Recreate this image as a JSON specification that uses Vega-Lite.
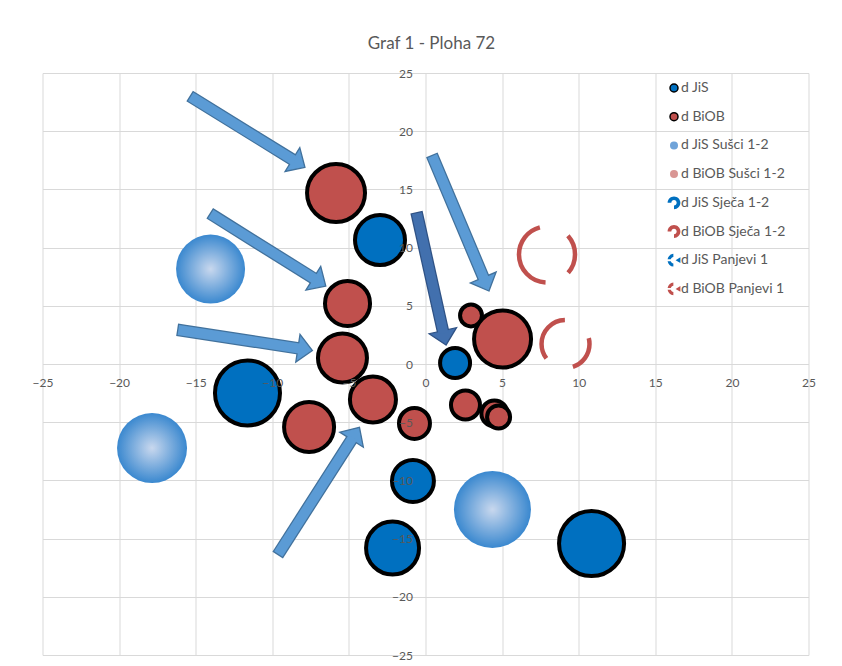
{
  "$schema": "https://vega.github.io/schema/vega-lite/v6.json",
  "width": 766,
  "height": 582,
  "autosize": {"type": "none"},
  "padding": {"left": 42.5, "top": 73, "right": 33.5, "bottom": 11},
  "background": "white",
  "config": {"view": {"stroke": null}, "font": "Lato"},
  "title": {"text": "Graf 1 - Ploha 72", "font": "Lato", "fontSize": 17, "fontWeight": "normal", "color": "#595959", "anchor": "middle", "offset": 14, "dx": 6},
  "datasets": {
    "bubbles": [
      {"series": "d JiS", "id": "j1", "x": -2.97, "y": 10.65, "bubble": 25.0},
      {"series": "d JiS", "id": "j2", "x": 1.93, "y": 0.09, "bubble": 9.0},
      {"series": "d JiS", "id": "j3", "x": -11.62, "y": -2.49, "bubble": 42.3},
      {"series": "d JiS", "id": "j4", "x": -0.82, "y": -10.05, "bubble": 17.6},
      {"series": "d JiS", "id": "j5", "x": -2.15, "y": -15.81, "bubble": 28.1},
      {"series": "d JiS", "id": "j6", "x": 10.84, "y": -15.42, "bubble": 42.3},
      {"series": "d BiOB", "id": "b1", "x": -5.84, "y": 14.69, "bubble": 33.6},
      {"series": "d BiOB", "id": "b2", "x": -5.09, "y": 5.2, "bubble": 20.3},
      {"series": "d BiOB", "id": "b3", "x": -5.42, "y": 0.52, "bubble": 24.0},
      {"series": "d BiOB", "id": "b4", "x": -3.43, "y": -3.05, "bubble": 21.2},
      {"series": "d BiOB", "id": "b5", "x": -7.6, "y": -5.41, "bubble": 25.0},
      {"series": "d BiOB", "id": "b6", "x": -0.72, "y": -5.11, "bubble": 9.6},
      {"series": "d BiOB", "id": "b7", "x": 2.97, "y": 4.17, "bubble": 4.8},
      {"series": "d BiOB", "id": "b8", "x": 5.03, "y": 2.15, "bubble": 32.5},
      {"series": "d BiOB", "id": "b9", "x": 2.61, "y": -3.52, "bubble": 8.4},
      {"series": "d BiOB", "id": "b10", "x": 4.5, "y": -4.25, "bubble": 6.8},
      {"series": "d BiOB", "id": "b11", "x": 4.77, "y": -4.55, "bubble": 5.3},
      {"series": "d JiS Sušci 1-2", "id": "s1", "x": -14.03, "y": 8.16, "bubble": 47.6},
      {"series": "d JiS Sušci 1-2", "id": "s2", "x": -17.85, "y": -7.22, "bubble": 49.0},
      {"series": "d JiS Sušci 1-2", "id": "s3", "x": 4.37, "y": -12.5, "bubble": 59.3},
      {"series": "d BiOB Panjevi 1", "id": "p1", "x": 7.93, "y": 9.41, "bubble": 31.4},
      {"series": "d BiOB Panjevi 1", "id": "p2", "x": 9.14, "y": 1.72, "bubble": 23.0}
    ],
    "arrows": [
      {"arrow": "A", "tx": -15.05, "ty": 22.74, "sx": -8.81, "sy": 17.67, "px": -7.87, "py": 16.9, "angle": 121.7},
      {"arrow": "B", "tx": -13.74, "ty": 12.66, "sx": -7.45, "sy": 7.48, "px": -6.51, "py": 6.7, "angle": 122.0},
      {"arrow": "C", "tx": -15.81, "ty": 2.86, "sx": -8.47, "sy": 1.38, "px": -7.38, "py": 1.16, "angle": 98.7},
      {"arrow": "D", "tx": -9.43, "ty": -15.96, "sx": -4.91, "sy": -6.67, "px": -4.31, "py": -5.44, "angle": 32.6},
      {"arrow": "E", "tx": 0.57, "ty": 17.47, "sx": 3.72, "sy": 7.62, "px": 4.14, "py": 6.27, "angle": 157.2},
      {"arrow": "F", "tx": -0.5, "ty": 12.53, "sx": 1.1, "sy": 3.06, "px": 1.34, "py": 1.63, "angle": 167.5}
    ]
  },
  "resolve": {"axis": {"x": "independent", "y": "independent"}},
  "layer": [
    {
      "data": {"name": "bubbles"},
      "transform": [{"filter": "datum.series === 'd JiS' || datum.series === 'd BiOB'"}],
      "mark": {"type": "point", "filled": true, "opacity": 1, "strokeWidth": 4, "strokeOpacity": 1, "fillOpacity": 1},
      "encoding": {
        "x": {"field": "x", "type": "quantitative",
          "scale": {"domain": [-25, 25], "nice": false, "zero": false},
          "axis": {"orient": "bottom", "offset": -291, "values": [-25, -20, -15, -10, -5, 0, 5, 10, 15, 20, 25], "grid": true, "gridColor": "#D9D9D9", "gridWidth": 1, "domain": false, "ticks": false, "labels": false, "title": null, "zindex": 0}},
        "y": {"field": "y", "type": "quantitative",
          "scale": {"domain": [-25, 25], "nice": false, "zero": false},
          "axis": {"orient": "left", "offset": -383, "values": [-25, -20, -15, -10, -5, 0, 5, 10, 15, 20, 25], "grid": true, "gridColor": "#D9D9D9", "gridWidth": 1, "domain": false, "ticks": false, "labels": false, "title": null, "zindex": 0}},
        "size": {"field": "bubble", "type": "quantitative", "scale": {"type": "linear", "domain": [0, 100], "range": [0, 10000], "zero": true}, "legend": null},
        "color": {"field": "series", "type": "nominal",
          "scale": {
            "domain": ["d JiS", "d BiOB", "d JiS Sušci 1-2", "d BiOB Sušci 1-2", "d JiS Sječa 1-2", "d BiOB Sječa 1-2", "d JiS Panjevi 1", "d BiOB Panjevi 1"],
            "range": ["#0070C0", "#C0504D", "#6FA3D9", "#D99694", "#0070C0", "#C0504D", "#0070C0", "#C0504D"]
          },
          "legend": {
            "orient": "none", "legendX": 624.5, "legendY": 8, "title": null, "padding": 0, "gridAlign": "all",
            "symbolSize": 64, "labelFont": "Lato", "labelFontSize": 14, "labelColor": "#595959", "labelOffset": 0, "rowPadding": 8.7
          }
        },
        "shape": {"field": "series", "type": "nominal",
          "scale": {
            "domain": ["d JiS", "d BiOB", "d JiS Sušci 1-2", "d BiOB Sušci 1-2", "d JiS Sječa 1-2", "d BiOB Sječa 1-2", "d JiS Panjevi 1", "d BiOB Panjevi 1"],
            "range": ["circle", "circle", "circle", "circle",
              "M-1.6,0A1.6,1.6,0,1,1,0,1.6L0,0.67A0.67,0.67,0,1,0,-0.67,0Z",
              "M-1.6,0A1.6,1.6,0,1,1,0,1.6L0,0.67A0.67,0.67,0,1,0,-0.67,0Z",
              "M-0.16,-1.6A1.6,1.6,0,0,0,-1.6,-0.24L-0.8,-0.24A0.8,0.8,0,0,1,-0.16,-0.8ZM-1.6,0.24A1.6,1.6,0,0,0,-0.16,1.6L-0.16,0.8A0.8,0.8,0,0,1,-0.8,0.24ZM1.6,-0.72L0.4,0L1.6,0.72Z",
              "M-0.16,-1.6A1.6,1.6,0,0,0,-1.6,-0.24L-0.8,-0.24A0.8,0.8,0,0,1,-0.16,-0.8ZM-1.6,0.24A1.6,1.6,0,0,0,-0.16,1.6L-0.16,0.8A0.8,0.8,0,0,1,-0.8,0.24ZM1.6,-0.72L0.4,0L1.6,0.72Z"]
          },
          "legend": {
            "orient": "none", "legendX": 624.5, "legendY": 8, "title": null, "padding": 0, "gridAlign": "all",
            "symbolSize": 64, "labelFont": "Lato", "labelFontSize": 14, "labelColor": "#595959", "labelOffset": 0, "rowPadding": 8.7
          }
        },
        "stroke": {"field": "series", "type": "nominal",
          "scale": {
            "domain": ["d JiS", "d BiOB", "d JiS Sušci 1-2", "d BiOB Sušci 1-2", "d JiS Sječa 1-2", "d BiOB Sječa 1-2", "d JiS Panjevi 1", "d BiOB Panjevi 1"],
            "range": ["#000000", "#000000", "transparent", "transparent", "transparent", "transparent", "transparent", "transparent"]
          },
          "legend": {
            "orient": "none", "legendX": 624.5, "legendY": 8, "title": null, "padding": 0, "gridAlign": "all",
            "symbolSize": 64, "labelFont": "Lato", "labelFontSize": 14, "labelColor": "#595959", "labelOffset": 0, "rowPadding": 8.7
          }
        }
      }
    },
    {
      "data": {"name": "bubbles"},
      "transform": [{"filter": "datum.series === 'd JiS Sušci 1-2'"}],
      "mark": {"type": "circle", "opacity": 1, "strokeWidth": 0,
        "fill": {"gradient": "radial", "x1": 0.5, "y1": 0.5, "r1": 0, "x2": 0.5, "y2": 0.5, "r2": 0.5, "stops": [{"offset": 0, "color": "#C9D8EE"}, {"offset": 1, "color": "#3A88CF"}]}},
      "encoding": {
        "x": {"field": "x", "type": "quantitative", "axis": null},
        "y": {"field": "y", "type": "quantitative", "axis": null},
        "size": {"field": "bubble", "type": "quantitative", "legend": null}
      }
    },
    {
      "data": {"name": "bubbles"},
      "transform": [{"filter": "datum.series === 'd BiOB Panjevi 1'"}],
      "mark": {"type": "point", "shape": "circle", "filled": false, "opacity": 1, "stroke": "#C0504D", "strokeWidth": 4.5},
      "encoding": {
        "x": {"field": "x", "type": "quantitative", "axis": null},
        "y": {"field": "y", "type": "quantitative", "axis": null},
        "size": {"field": "bubble", "type": "quantitative", "legend": null},
        "strokeDash": {"field": "id", "type": "nominal", "scale": {"domain": ["p1", "p2"], "range": [[20.0, 25.4, 79.2, 30.8, 20.5, 0], [29.9, 29.5, 52.2, 32.1, 7.1, 0]]}, "legend": null}
      }
    },
    {
      "data": {"name": "arrows"},
      "mark": {"type": "rule", "strokeWidth": 12.5, "strokeCap": "square"},
      "encoding": {
        "x": {"field": "tx", "type": "quantitative", "axis": null},
        "y": {"field": "ty", "type": "quantitative", "axis": null},
        "x2": {"field": "sx"},
        "y2": {"field": "sy"},
        "stroke": {"condition": {"test": "datum.arrow === 'F'", "value": "#2F5285"}, "value": "#41719C"}
      }
    },
    {
      "data": {"name": "arrows"},
      "mark": {"type": "point", "shape": "M0,0L1,1.05L-1,1.05Z", "size": 784, "filled": true, "opacity": 1, "strokeWidth": 1.3},
      "encoding": {
        "x": {"field": "px", "type": "quantitative", "axis": null},
        "y": {"field": "py", "type": "quantitative", "axis": null},
        "angle": {"field": "angle", "type": "quantitative", "scale": null},
        "fill": {"condition": {"test": "datum.arrow === 'F'", "value": "#4270AE"}, "value": "#5B9BD5"},
        "stroke": {"condition": {"test": "datum.arrow === 'F'", "value": "#2F5285"}, "value": "#41719C"}
      }
    },
    {
      "data": {"name": "arrows"},
      "mark": {"type": "rule", "strokeWidth": 10, "strokeCap": "square"},
      "encoding": {
        "x": {"field": "tx", "type": "quantitative",
          "axis": {"orient": "bottom", "offset": -291, "values": [-25, -20, -15, -10, -5, 0, 5, 10, 15, 20, 25], "grid": false, "domain": false, "ticks": false, "labels": true, "labelColor": "#595959", "labelFont": "Lato", "labelFontSize": 12, "labelPadding": 13, "labelFlush": false, "labelOverlap": false, "title": null, "zindex": 1}},
        "y": {"field": "ty", "type": "quantitative",
          "axis": {"orient": "left", "offset": -383, "values": [-25, -20, -15, -10, -5, 0, 5, 10, 15, 20, 25], "grid": false, "domain": false, "ticks": false, "labels": true, "labelColor": "#595959", "labelFont": "Lato", "labelFontSize": 12, "labelPadding": 13, "labelFlush": false, "labelOverlap": false, "title": null, "zindex": 1}},
        "x2": {"field": "sx"},
        "y2": {"field": "sy"},
        "stroke": {"condition": {"test": "datum.arrow === 'F'", "value": "#4270AE"}, "value": "#5B9BD5"}
      }
    }
  ]
}
